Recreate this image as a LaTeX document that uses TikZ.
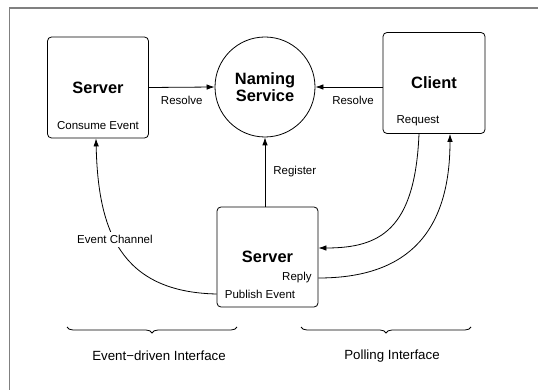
\documentclass[tikz,border=0pt]{standalone}
\usepackage{fontspec}
\setmainfont{Liberation Sans}
\usetikzlibrary{arrows.meta,decorations.pathreplacing}

\begin{document}
\begin{tikzpicture}[x=1pt,y=-1pt,>={Latex[length=8pt,width=5.5pt]},line width=0.8pt,
  box/.style={draw,rounded corners=4pt,minimum width=101pt,minimum height=101pt,font=\fontsize{16.4}{18}\selectfont\bfseries},
  lbl/.style={font=\fontsize{11.5}{13}\selectfont,inner sep=2pt},
  iface/.style={font=\fontsize{13.3}{15}\selectfont}]
\useasboundingbox (0,0) rectangle (538,390);
% frame
\draw[gray,line width=1.5pt] (9.5,390) -- (9.5,8) -- (538,8);
% boxes
\node[box] (srvL) at (98,87.5) {Server};
\node[draw,circle,minimum size=100pt,align=center,font=\fontsize{16.4}{15}\selectfont\bfseries] (ns) at (265,87) {Naming\\Service};
\node[box,minimum width=102pt] (client) at (434,83) {Client};
\node[box,minimum height=100pt] (srvB) at (267.5,257) {Server};
% texts inside
\node[lbl] (consume) at (98,126) {Consume Event};
\node[lbl] (req) at (418,121) {Request};
\node[lbl,anchor=east] (reply) at (314,278) {Reply};
\node[lbl] (pub) at (260,294) {Publish Event};
% connectors
\draw[->] (srvL.east) -- node[lbl,below=7pt] (res1) {Resolve} (ns.west);
\draw[->] (client.west |- ns.east) -- node[lbl,below=7pt,pos=0.44] (res2) {Resolve} (ns.east);
\draw[->] (ns.south |- srvB.north) -- node[lbl,right=6pt] (reg) {Register} (ns.south);
\draw[->] (srvB.west |- pub) .. controls (120,292) and (98,230) .. ([xshift=-2pt]srvL.south)
  node[lbl,pos=0.56,fill=white,inner sep=3pt] (chan) {Event Channel};
\draw[->] ([xshift=-15pt]client.south) .. controls (415,230) and (380,248) .. ([yshift=9pt]srvB.east);
\draw[->] (srvB.east |- reply) .. controls (400,278) and (450,240) .. ([xshift=16pt]client.south);
% braces
\draw[decorate,decoration={brace,mirror,amplitude=6pt}] (67,327) -- (237,327);
\draw[decorate,decoration={brace,mirror,amplitude=6pt}] (301,327) -- (471,327);
\node[iface] (edi) at (159,356) {Event−driven Interface};
\node[iface] (poll) at (392,356) {Polling Interface};
\end{tikzpicture}
\end{document}
